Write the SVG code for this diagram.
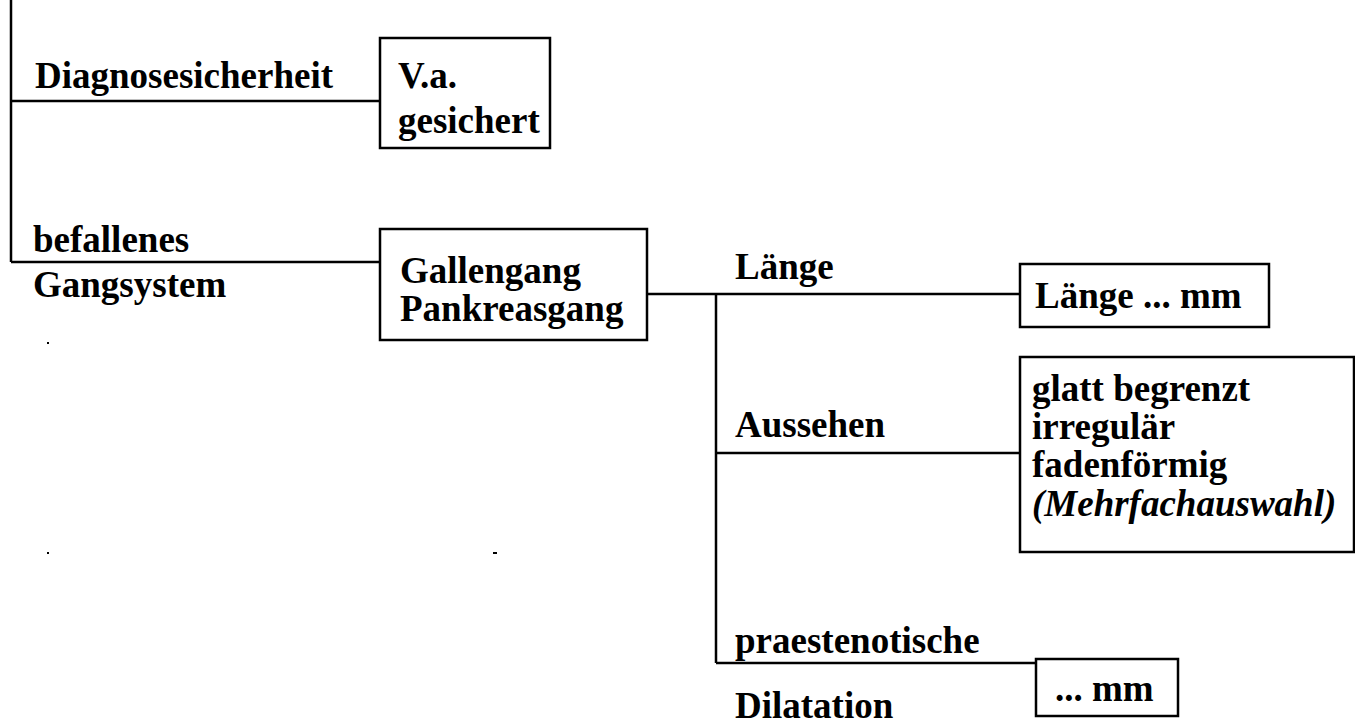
<svg xmlns="http://www.w3.org/2000/svg" width="1355" height="727" viewBox="0 0 1355 727">
  <style>
    .bg { fill: #ffffff; }
    .box { fill: #ffffff; stroke: #000000; stroke-width: 2.5; }
    .wire { fill: none; stroke: #000000; stroke-width: 2.5; }
    .t { font-family: "Liberation Serif", "Times New Roman", serif; font-size: 37px; font-weight: bold; fill: #000000; }
    .it { font-style: italic; }
    .dot { fill: #000000; }
  </style>
  <rect class="bg" x="0" y="0" width="1355" height="727"/>

  <!-- connectors -->
  <g id="connectors">
    <path class="wire" d="M11,0 V262"/>
    <path class="wire" d="M11,101 H380"/>
    <path class="wire" d="M11,262 H380"/>
    <path class="wire" d="M647,294 H1020"/>
    <path class="wire" d="M716,294 V663"/>
    <path class="wire" d="M716,453 H1020"/>
    <path class="wire" d="M716,663 H1036"/>
  </g>

  <!-- branch labels -->
  <g id="label-diagnosesicherheit">
    <text class="t" x="35" y="88">Diagnosesicherheit</text>
  </g>
  <g id="label-gangsystem">
    <text class="t" x="33" y="252">befallenes</text>
    <text class="t" x="33" y="297">Gangsystem</text>
  </g>
  <g id="label-laenge">
    <text class="t" x="735" y="279">Länge</text>
  </g>
  <g id="label-aussehen">
    <text class="t" x="735" y="437">Aussehen</text>
  </g>
  <g id="label-dilatation">
    <text class="t" x="735" y="653">praestenotische</text>
    <text class="t" x="735" y="718">Dilatation</text>
  </g>

  <!-- value boxes -->
  <g id="node-sicherheit">
    <rect class="box" x="380" y="38" width="170" height="110"/>
    <text class="t" x="398" y="88">V.a.</text>
    <text class="t" x="398" y="133">gesichert</text>
  </g>
  <g id="node-gangsystem">
    <rect class="box" x="380" y="229" width="267" height="111"/>
    <text class="t" x="400" y="283">Gallengang</text>
    <text class="t" x="400" y="321">Pankreasgang</text>
  </g>
  <g id="node-laenge">
    <rect class="box" x="1020" y="264" width="249" height="63"/>
    <text class="t" x="1035" y="308">Länge ... mm</text>
  </g>
  <g id="node-aussehen">
    <rect class="box" x="1020" y="357" width="334" height="195"/>
    <text class="t" x="1032" y="401">glatt begrenzt</text>
    <text class="t" x="1032" y="439">irregulär</text>
    <text class="t" x="1032" y="477">fadenförmig</text>
    <text class="t" x="1032" y="516"><tspan class="it">(Mehrfachauswahl)</tspan></text>
  </g>
  <g id="node-dilatation">
    <rect class="box" x="1036" y="659" width="142" height="57"/>
    <text class="t" x="1055" y="701">... mm</text>
  </g>

  <!-- stray marks -->
  <rect class="dot" x="47" y="342" width="2" height="2"/>
  <rect class="dot" x="47" y="552" width="2" height="2"/>
  <rect class="dot" x="493" y="552" width="4" height="2"/>
</svg>
